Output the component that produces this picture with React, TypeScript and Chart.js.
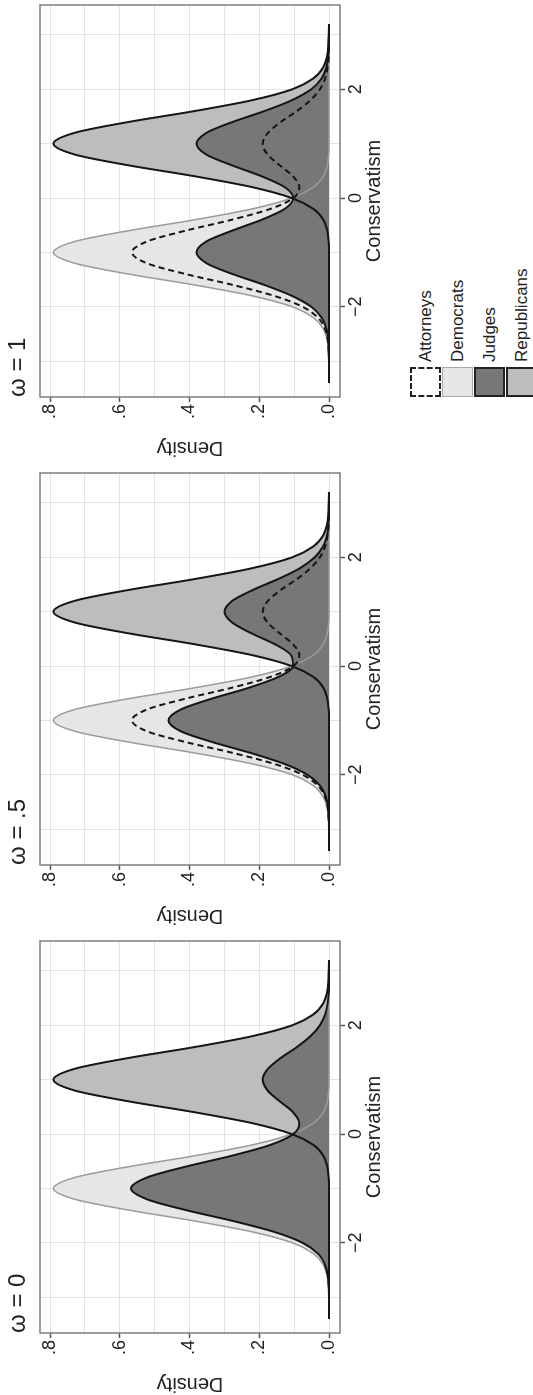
import React, { useEffect, useRef } from 'react';
import { Chart, registerables } from 'chart.js';

Chart.register(...registerables);

// ---- data ----
const conservatism = [
  -3.4, -3.2, -3.0, -2.8, -2.6, -2.4, -2.2, -2.0, -1.8, -1.6, -1.4, -1.2, -1.0, -0.8, -0.6, -0.4, -0.2,
  0, 0.2, 0.4, 0.6, 0.8, 1.0, 1.2, 1.4, 1.6, 1.8, 2.0, 2.2, 2.4, 2.6, 2.8, 3.0, 3.2,
];

const democrats = [
  0, 0, 0.001, 0.002, 0.006, 0.017, 0.045, 0.105, 0.22, 0.385, 0.574, 0.729, 0.79, 0.729, 0.574, 0.385, 0.22,
  0.107, 0.045, 0.016, 0.005, 0.001, 0, 0, 0, 0, 0, 0, 0, 0, 0, 0, 0, 0,
];

const republicans = [
  0, 0, 0, 0, 0, 0, 0, 0, 0, 0, 0, 0, 0, 0.001, 0.005, 0.016, 0.045,
  0.107, 0.22, 0.385, 0.574, 0.729, 0.79, 0.729, 0.574, 0.385, 0.22, 0.105, 0.045, 0.017, 0.006, 0.002, 0.001, 0,
];

const attorneys = [
  0, 0, 0, 0.001, 0.004, 0.012, 0.032, 0.076, 0.157, 0.275, 0.41, 0.522, 0.565, 0.522, 0.411, 0.279, 0.168,
  0.102, 0.085, 0.103, 0.141, 0.176, 0.19, 0.175, 0.138, 0.092, 0.053, 0.026, 0.011, 0.004, 0.001, 0, 0, 0,
];

const judgesOmega0 = [
  0, 0, 0, 0.001, 0.004, 0.012, 0.032, 0.076, 0.157, 0.275, 0.41, 0.522, 0.568, 0.522, 0.411, 0.279, 0.168,
  0.102, 0.085, 0.103, 0.141, 0.176, 0.19, 0.175, 0.138, 0.092, 0.053, 0.026, 0.011, 0.004, 0.001, 0, 0, 0,
];

const judgesOmega05 = [
  0, 0, 0, 0.001, 0.003, 0.009, 0.026, 0.062, 0.128, 0.224, 0.334, 0.425, 0.46, 0.425, 0.336, 0.23, 0.145,
  0.103, 0.109, 0.155, 0.222, 0.278, 0.3, 0.277, 0.218, 0.146, 0.083, 0.041, 0.017, 0.006, 0.002, 0, 0, 0,
];

const judgesOmega1 = [
  0, 0, 0, 0.001, 0.002, 0.008, 0.021, 0.051, 0.106, 0.185, 0.276, 0.351, 0.38, 0.352, 0.278, 0.193, 0.127,
  0.103, 0.127, 0.193, 0.278, 0.352, 0.38, 0.351, 0.276, 0.185, 0.106, 0.051, 0.021, 0.008, 0.002, 0.001, 0, 0,
];

const panelTitles = ['ω = 0', 'ω = .5', 'ω = 1'];
const panelJudges = [judgesOmega0, judgesOmega05, judgesOmega1];
const panelShowsAttorneys = [false, true, true];

const densityGrid = [0, 0.1, 0.2, 0.3, 0.4, 0.5, 0.6, 0.7, 0.8];
const densityTickLabels = ['.0', '', '.2', '', '.4', '', '.6', '', '.8'];
const conservatismGrid = [-3, -2, -1, 0, 1, 2, 3];
const conservatismTickLabels = ['', '−2', '', '0', '', '2', ''];

const legendLabels = ['Attorneys', 'Democrats', 'Judges', 'Republicans'];

// ---- styling ----
const FONT = '"Liberation Sans", Arial, Helvetica, sans-serif';
const TEXT = '#222222';
const C_DEM_FILL = '#e6e6e6';
const C_DEM_LINE = '#9a9a9a';
const C_REP_FILL = '#bdbdbd';
const C_JUD_FILL = '#777777';
const C_DARK = '#151515';

const FIG_W = 1395;
const FIG_H = 533;
const CANVAS_W = 459;
const CANVAS_H = 390;
const PANEL_STEP = 468;

const pts = (ys: number[]) => conservatism.map((x, i) => ({ x, y: ys[i] }));

const plotBox = {
  id: 'plotBox',
  afterDatasetsDraw(chart: any) {
    const { ctx, chartArea: a } = chart;
    ctx.save();
    ctx.strokeStyle = '#7d7d7d';
    ctx.lineWidth = 1.5;
    ctx.strokeRect(a.left, a.top, a.right - a.left, a.bottom - a.top);
    ctx.restore();
  },
};

function makeConfig(k: number): any {
  const common = { pointRadius: 0, cubicInterpolationMode: 'monotone', borderJoinStyle: 'round' };
  const datasets: any[] = [];
  if (panelShowsAttorneys[k]) {
    datasets.push({
      ...common, label: 'Attorneys', data: pts(attorneys), borderColor: C_DARK, borderWidth: 2,
      borderDash: [6, 4], fill: false,
    });
  }
  datasets.push({
    ...common, label: 'Judges', data: pts(panelJudges[k]), borderColor: C_DARK,
    backgroundColor: C_JUD_FILL, borderWidth: 2, fill: 'origin',
  });
  datasets.push({
    ...common, label: 'Republicans', data: pts(republicans), borderColor: C_DARK,
    backgroundColor: C_REP_FILL, borderWidth: 2, fill: 'origin',
  });
  datasets.push({
    ...common, label: 'Democrats', data: pts(democrats), borderColor: C_DEM_LINE,
    backgroundColor: C_DEM_FILL, borderWidth: 1.5, fill: 'origin',
  });

  return {
    type: 'line',
    data: { datasets },
    plugins: [plotBox],
    options: {
      animation: false,
      responsive: false,
      devicePixelRatio: 1,
      events: [],
      layout: { padding: { left: 0, right: 5, top: 0, bottom: 0 } },
      plugins: {
        legend: { display: false },
        tooltip: { enabled: false },
        filler: { drawTime: 'beforeDatasetsDraw', propagate: false },
        title: {
          display: true,
          text: panelTitles[k],
          align: 'start',
          fullSize: false,
          color: TEXT,
          font: { family: FONT, size: 24, weight: 'normal', lineHeight: 1.2 },
          padding: { top: 4, bottom: 7.2 },
        },
      },
      scales: {
        x: {
          type: 'linear',
          min: -3.66,
          max: 3.55,
          afterBuildTicks: (ax: any) => { ax.ticks = conservatismGrid.map((v) => ({ value: v })); },
          afterFit: (s: any) => { s.height = 50; },
          border: { display: false },
          grid: {
            color: '#e3e3e3',
            lineWidth: 1,
            drawTicks: true,
            tickLength: 5,
            tickWidth: 1.5,
            tickColor: (c: any) => (conservatismTickLabels[c.index] ? '#555555' : 'rgba(0,0,0,0)'),
          },
          ticks: {
            autoSkip: false,
            maxRotation: 0,
            minRotation: 0,
            padding: 0,
            color: TEXT,
            font: { family: FONT, size: 18 },
            callback: (_v: any, i: number) => conservatismTickLabels[i],
          },
          title: {
            display: true,
            text: 'Conservatism',
            color: TEXT,
            font: { family: FONT, size: 20, lineHeight: 1.2 },
            padding: { top: 0, bottom: 4 },
          },
        },
        y: {
          type: 'linear',
          min: -0.0315,
          max: 0.8287,
          afterBuildTicks: (ax: any) => { ax.ticks = densityGrid.map((v) => ({ value: v })); },
          afterFit: (s: any) => { s.width = 62; },
          border: { display: false },
          grid: {
            color: '#e3e3e3',
            lineWidth: 1,
            drawTicks: true,
            tickLength: 5,
            tickWidth: 1.5,
            tickColor: (c: any) => (densityTickLabels[c.index] ? '#555555' : 'rgba(0,0,0,0)'),
          },
          ticks: {
            autoSkip: false,
            padding: 2,
            color: TEXT,
            font: { family: FONT, size: 18 },
            callback: (_v: any, i: number) => densityTickLabels[i],
          },
          title: {
            display: true,
            text: 'Density',
            color: TEXT,
            font: { family: FONT, size: 20, lineHeight: 1.1 },
            padding: { top: 0, bottom: 0 },
          },
        },
      },
    },
  };
}

function DensityPanel({ k }: { k: number }) {
  const ref = useRef<HTMLCanvasElement>(null);
  useEffect(() => {
    const chart = new Chart(ref.current as HTMLCanvasElement, makeConfig(k));
    return () => chart.destroy();
  }, [k]);
  return (
    <canvas
      ref={ref}
      width={CANVAS_W}
      height={CANVAS_H}
      style={{ position: 'absolute', left: PANEL_STEP * k, top: 0, width: CANVAS_W, height: CANVAS_H }}
    />
  );
}

const legendKeyStyles: React.CSSProperties[] = [
  { background: '#ffffff', border: '2px dashed #222' },
  { background: C_DEM_FILL, border: '1px solid #a8a8a8' },
  { background: C_JUD_FILL, border: '2px solid #222' },
  { background: C_REP_FILL, border: '2px solid #222' },
];

function Legend() {
  return (
    <div style={{ position: 'absolute', left: 998, top: 410 }}>
      {legendLabels.map((lab, i) => (
        <div key={lab} style={{ position: 'absolute', left: 0, top: i * 32, height: 32, width: 200 }}>
          <div
            style={{
              position: 'absolute', left: 0, top: 0, width: 30, height: 31,
              boxSizing: 'border-box', ...legendKeyStyles[i],
            }}
          />
          <div
            style={{
              position: 'absolute', left: 35, top: 0, height: 31, lineHeight: '31px',
              fontFamily: FONT, fontSize: 17, color: TEXT, whiteSpace: 'nowrap',
            }}
          >
            {lab}
          </div>
        </div>
      ))}
    </div>
  );
}

export default function App() {
  return (
    <div
      style={{
        position: 'fixed', left: 0, top: 0, width: FIG_H, height: FIG_W,
        overflow: 'hidden', background: '#ffffff',
      }}
    >
      <div
        style={{
          position: 'absolute', left: 0, top: 0, width: FIG_W, height: FIG_H,
          transformOrigin: '0 0', transform: `translate(0px, ${FIG_W}px) rotate(-90deg)`,
        }}
      >
        {[0, 1, 2].map((k) => <DensityPanel key={k} k={k} />)}
        <Legend />
      </div>
    </div>
  );
}
